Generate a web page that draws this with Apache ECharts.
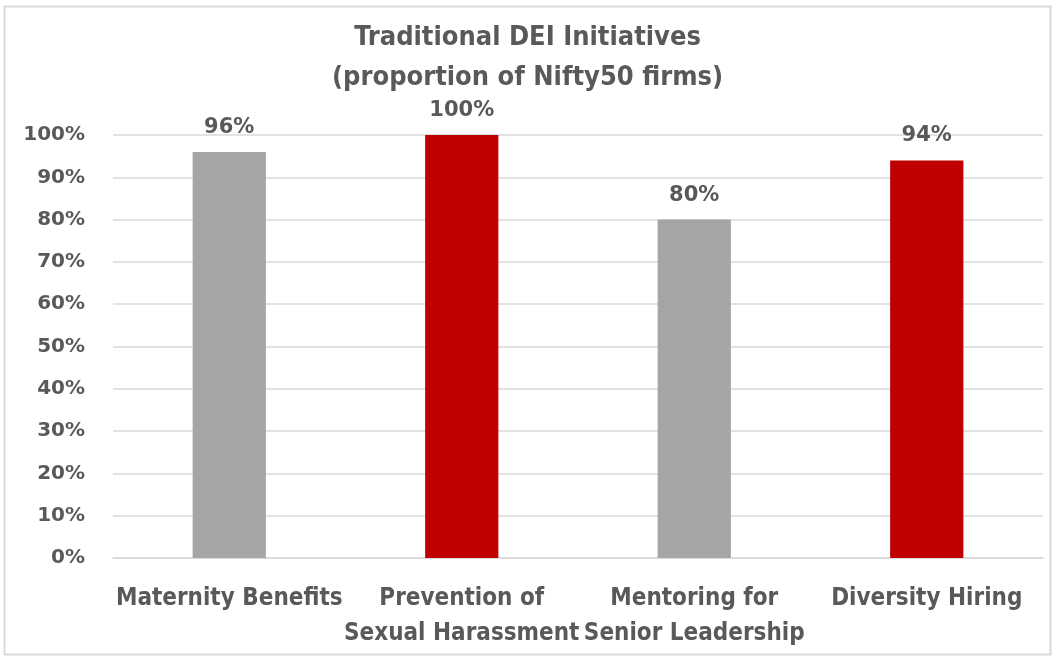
<!DOCTYPE html>
<html><head><meta charset="utf-8">
<script src="https://cdn.jsdelivr.net/npm/echarts@6/dist/echarts.min.js"></script>
<style>html,body{margin:0;padding:0;background:#fff}#c{width:1055px;height:660px}</style>
</head><body><div id="c"></div>
<script>
const categories = ['Maternity Benefits', 'Prevention of\nSexual Harassment', 'Mentoring for\nSenior Leadership', 'Diversity Hiring'];
const values = [96, 100, 80, 94];
const barColors = ['#A5A5A5', '#C00000', '#A5A5A5', '#C00000'];
const titleLines = ['Traditional DEI Initiatives', '(proportion of Nifty50 firms)'];
const yTicks = [0, 10, 20, 30, 40, 50, 60, 70, 80, 90, 100];

const narrow = '"Liberation Sans Narrow", "DejaVu Sans Condensed", "Liberation Sans", sans-serif';
const chart = echarts.init(document.getElementById('c'), null, {renderer: 'canvas'});
chart.setOption({
  backgroundColor: '#fff',
  animation: false,
  graphic: [{type: 'rect', shape: {x: 4.5, y: 6.5, width: 1046, height: 648}, style: {fill: 'none', stroke: '#D9D9D9', lineWidth: 2}}],
  title: {
    text: titleLines.join('\n'), left: 'center', top: 13,
    textStyle: {fontFamily: narrow, fontSize: 27, fontWeight: 'bold', color: '#595959', lineHeight: 40}
  },
  grid: {left: 113, right: 12, top: 135, bottom: 102, containLabel: false},
  xAxis: {
    type: 'category', data: categories,
    axisLine: {lineStyle: {color: '#D9D9D9', width: 1.5}},
    axisTick: {show: false},
    axisLabel: {interval: 0, margin: 23, fontFamily: narrow, fontSize: 24, fontWeight: 'bold', color: '#595959', lineHeight: 35}
  },
  yAxis: {
    type: 'value', min: yTicks[0], max: yTicks[yTicks.length - 1], interval: 10,
    axisLine: {show: false}, axisTick: {show: false},
    splitLine: {lineStyle: {color: '#D9D9D9', width: 1.5}},
    axisLabel: {margin: 28, fontFamily: '"DejaVu Sans", sans-serif', fontSize: 20, fontWeight: 'bold', color: '#595959', formatter: v => v + '%'}
  },
  series: [{
    type: 'bar', barWidth: '31.5%',
    data: values.map((v, i) => ({value: v, itemStyle: {color: barColors[i]}})),
    label: {show: true, position: 'top', distance: 14, fontFamily: '"DejaVu Sans", sans-serif', fontSize: 21, fontWeight: 'bold', color: '#595959', formatter: p => p.value + '%'}
  }]
});
</script></body></html>
